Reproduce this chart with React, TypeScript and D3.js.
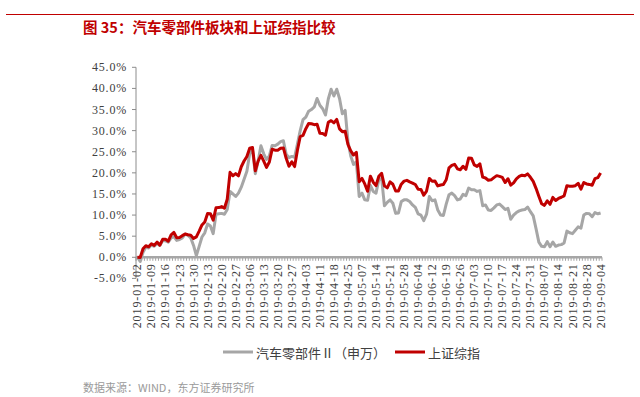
import * as d3 from "d3"

// weekly tick labels (every 5th trading day)
const tickDates = [
  "2019-01-02", "2019-01-09", "2019-01-16", "2019-01-23", "2019-01-30", "2019-02-13",
  "2019-02-20", "2019-02-27", "2019-03-06", "2019-03-13", "2019-03-20", "2019-03-27",
  "2019-04-03", "2019-04-11", "2019-04-18", "2019-04-25", "2019-05-07", "2019-05-14",
  "2019-05-21", "2019-05-28", "2019-06-04", "2019-06-12", "2019-06-19", "2019-06-26",
  "2019-07-03", "2019-07-10", "2019-07-17", "2019-07-24", "2019-07-31", "2019-08-07",
  "2019-08-14", "2019-08-21", "2019-08-28", "2019-09-04",
]

// cumulative return (%), one value per trading day
const autoParts = [
  0, -1.0, 1.2, 2.4, 2.2, 2.9, 2.6, 3.3, 2.8, 4.0,
  3.9, 3.6, 4.6, 4.9, 4.0, 4.2, 4.6, 5.5, 5.2, 4.6,
  2.8, 0.4, 2.6, 4.8, 5.8, 7.9, 7.4, 5.6, 10.2, 10.3,
  10.4, 10.2, 11.3, 15.6, 15.0, 14.4, 15.2, 16.6, 18.5, 20.4,
  24.6, 25.4, 19.8, 22.8, 26.4, 24.5, 23.2, 24.0, 26.5, 26.4,
  26.8, 27.4, 27.6, 24.4, 23.6, 23.9, 23.7, 26.8, 30.0, 32.6,
  33.2, 34.6, 35.0, 35.6, 37.6, 36.0, 35.2, 33.7, 37.5, 39.8,
  38.2, 39.8, 37.6, 34.0, 34.8, 27.5, 24.0, 22.0, 22.6, 14.4,
  15.2, 13.6, 13.5, 17.0, 15.6, 15.2, 18.4, 18.7, 12.2, 13.0,
  13.6, 12.8, 10.4, 10.5, 13.2, 13.6, 13.6, 13.2, 12.4, 11.8,
  10.3, 10.0, 8.7, 10.2, 14.4, 13.4, 13.6, 11.2, 10.0, 9.9,
  12.6, 14.8, 15.2, 14.6, 13.6, 13.8, 14.9, 14.6, 16.4, 16.0,
  16.0, 15.6, 15.8, 12.2, 12.4, 11.2, 11.1, 11.7, 12.4, 12.6,
  12.0, 11.3, 11.6, 9.0, 10.0, 10.6, 11.0, 11.2, 11.3, 11.9,
  10.8, 9.8, 6.8, 3.6, 2.6, 2.5, 3.7, 2.5, 3.6, 2.6,
  2.9, 3.0, 3.4, 6.2, 5.8, 5.6, 6.4, 7.2, 6.9, 10.0,
  10.4, 10.3, 9.6, 10.6, 10.3, 10.5,
]

const shIndex = [
  0, -0.04, 2.01, 2.75, 2.48, 3.21, 2.83, 3.59, 2.86, 4.26,
  4.26, 3.83, 5.3, 5.89, 4.64, 4.69, 5.13, 5.53, 5.34, 5.23,
  4.47, 4.84, 6.2, 7.65, 8.38, 10.38, 10.32, 8.81, 11.73, 11.78,
  12.0, 11.62, 13.75, 20.12, 19.32, 19.82, 19.29, 21.45, 22.81, 23.89,
  25.83, 26.01, 20.47, 22.78, 24.14, 22.78, 21.31, 22.57, 25.6, 25.38,
  25.37, 25.81, 25.91, 23.44, 21.57, 22.61, 21.48, 25.37, 28.6, 28.86,
  30.46, 31.69, 31.62, 31.41, 31.5, 29.39, 29.34, 28.9, 31.98, 32.36,
  31.84, 32.67, 30.41, 29.75, 29.87, 26.71, 25.19, 24.22, 24.87, 17.9,
  18.7, 17.38, 15.64, 19.22, 17.78, 16.97, 19.2, 19.89, 16.92, 16.44,
  17.88, 17.3, 15.71, 15.73, 17.32, 18.04, 18.23, 17.87, 17.58, 17.23,
  16.1, 16.07, 14.7, 15.69, 18.68, 18.01, 18.07, 16.9, 17.13, 17.23,
  18.36, 21.17, 21.77, 22.02, 20.96, 20.73, 21.56, 20.83, 23.51, 23.47,
  21.9, 21.53, 22.14, 18.99, 18.78, 18.25, 18.35, 18.87, 19.34, 19.16,
  18.92, 17.71, 18.61, 17.1, 17.63, 18.58, 19.15, 19.44, 19.3, 19.76,
  18.95, 17.99, 16.33, 14.45, 12.67, 12.31, 13.36, 12.55, 14.18, 13.47,
  13.94, 14.22, 14.54, 16.95, 16.84, 16.82, 16.96, 17.53, 16.16, 17.72,
  17.38, 17.26, 17.08, 18.61, 18.86, 19.96,
]

const yTicks = [-5, 0, 5, 10, 15, 20, 25, 30, 35, 40, 45]

const GRAY = "#a6a6a6"
const RED = "#c00000"
const AXIS = "#8c8c8c"
const SERIF = "'Liberation Serif', 'DejaVu Serif', serif"
const CJK = "'Noto Sans CJK SC', sans-serif"

export default function App() {
  const width = 640
  const height = 397

  const x = d3
    .scaleBand<number>()
    .domain(d3.range(shIndex.length))
    .range([136, 602])
  const cx = (i: number) => (x(i) || 0) + x.bandwidth() / 2

  const y = d3.scaleLinear().domain([-5, 45]).range([278.4, 67.3])

  const line = d3
    .line<number>()
    .x((_, i) => cx(i))
    .y((d) => y(d))

  const y0 = y(0)

  return (
    <div style={{ position: "absolute", left: 0, top: 0 }}>
      <svg width={width} height={height} style={{ display: "block", background: "#fff" }}>
        {/* header */}
        <line x1={6} x2={634} y1={14.5} y2={14.5} stroke={RED} strokeWidth={1} />
        <text x={83} y={33} fill={RED} fontFamily={CJK} fontSize={14.5} fontWeight={700}>
          图 35：汽车零部件板块和上证综指比较
        </text>

        {/* y axis */}
        <line x1={136} x2={136} y1={y(-5)} y2={y(45)} stroke={AXIS} strokeWidth={1} />
        {yTicks.map((t) => (
          <g key={t}>
            <line x1={132} x2={136} y1={y(t)} y2={y(t)} stroke={AXIS} strokeWidth={1} />
            <text
              x={127}
              y={y(t)}
              textAnchor="end"
              dominantBaseline="central"
              fontFamily={SERIF}
              fontSize={12}
              letterSpacing={0.8}
              fill="#404040"
            >
              {t.toFixed(1) + "%"}
            </text>
          </g>
        ))}

        {/* x axis */}
        {d3.range(shIndex.length + 1).map((i) => {
          const xx = 136 + i * x.bandwidth()
          return (
            <line key={i} x1={xx} x2={xx} y1={y0} y2={y0 + 3.5} stroke={AXIS} strokeWidth={0.8} />
          )
        })}
        <line x1={136} x2={602} y1={y0} y2={y0} stroke={GRAY} strokeWidth={2.5} />
        {tickDates.map((d, k) => (
          <text
            key={d}
            transform={`translate(${cx(k * 5)},${y0 + 6}) rotate(-90)`}
            textAnchor="end"
            dominantBaseline="central"
            fontFamily={SERIF}
            fontSize={12}
            letterSpacing={0.9}
            fill="#404040"
          >
            {d}
          </text>
        ))}

        {/* series */}
        <path d={line(autoParts) || ""} fill="none" stroke={GRAY} strokeWidth={3} strokeLinejoin="round" />
        <path d={line(shIndex) || ""} fill="none" stroke={RED} strokeWidth={3} strokeLinejoin="round" />

        {/* legend */}
        <line x1={223} x2={253} y1={352} y2={352} stroke={GRAY} strokeWidth={3} />
        <text x={256} y={352} dominantBaseline="central" fontFamily={CJK} fontSize={13} fill="#404040">
          汽车零部件Ⅱ（申万）
        </text>
        <line x1={395} x2={425} y1={352} y2={352} stroke={RED} strokeWidth={3} />
        <text x={428} y={352} dominantBaseline="central" fontFamily={CJK} fontSize={13} fill="#404040">
          上证综指
        </text>

        {/* source */}
        <text x={83} y={387} dominantBaseline="central" fontFamily={CJK} fontSize={11} fill="#9a9a9a">
          数据来源：WIND，东方证券研究所
        </text>
      </svg>
    </div>
  )
}
